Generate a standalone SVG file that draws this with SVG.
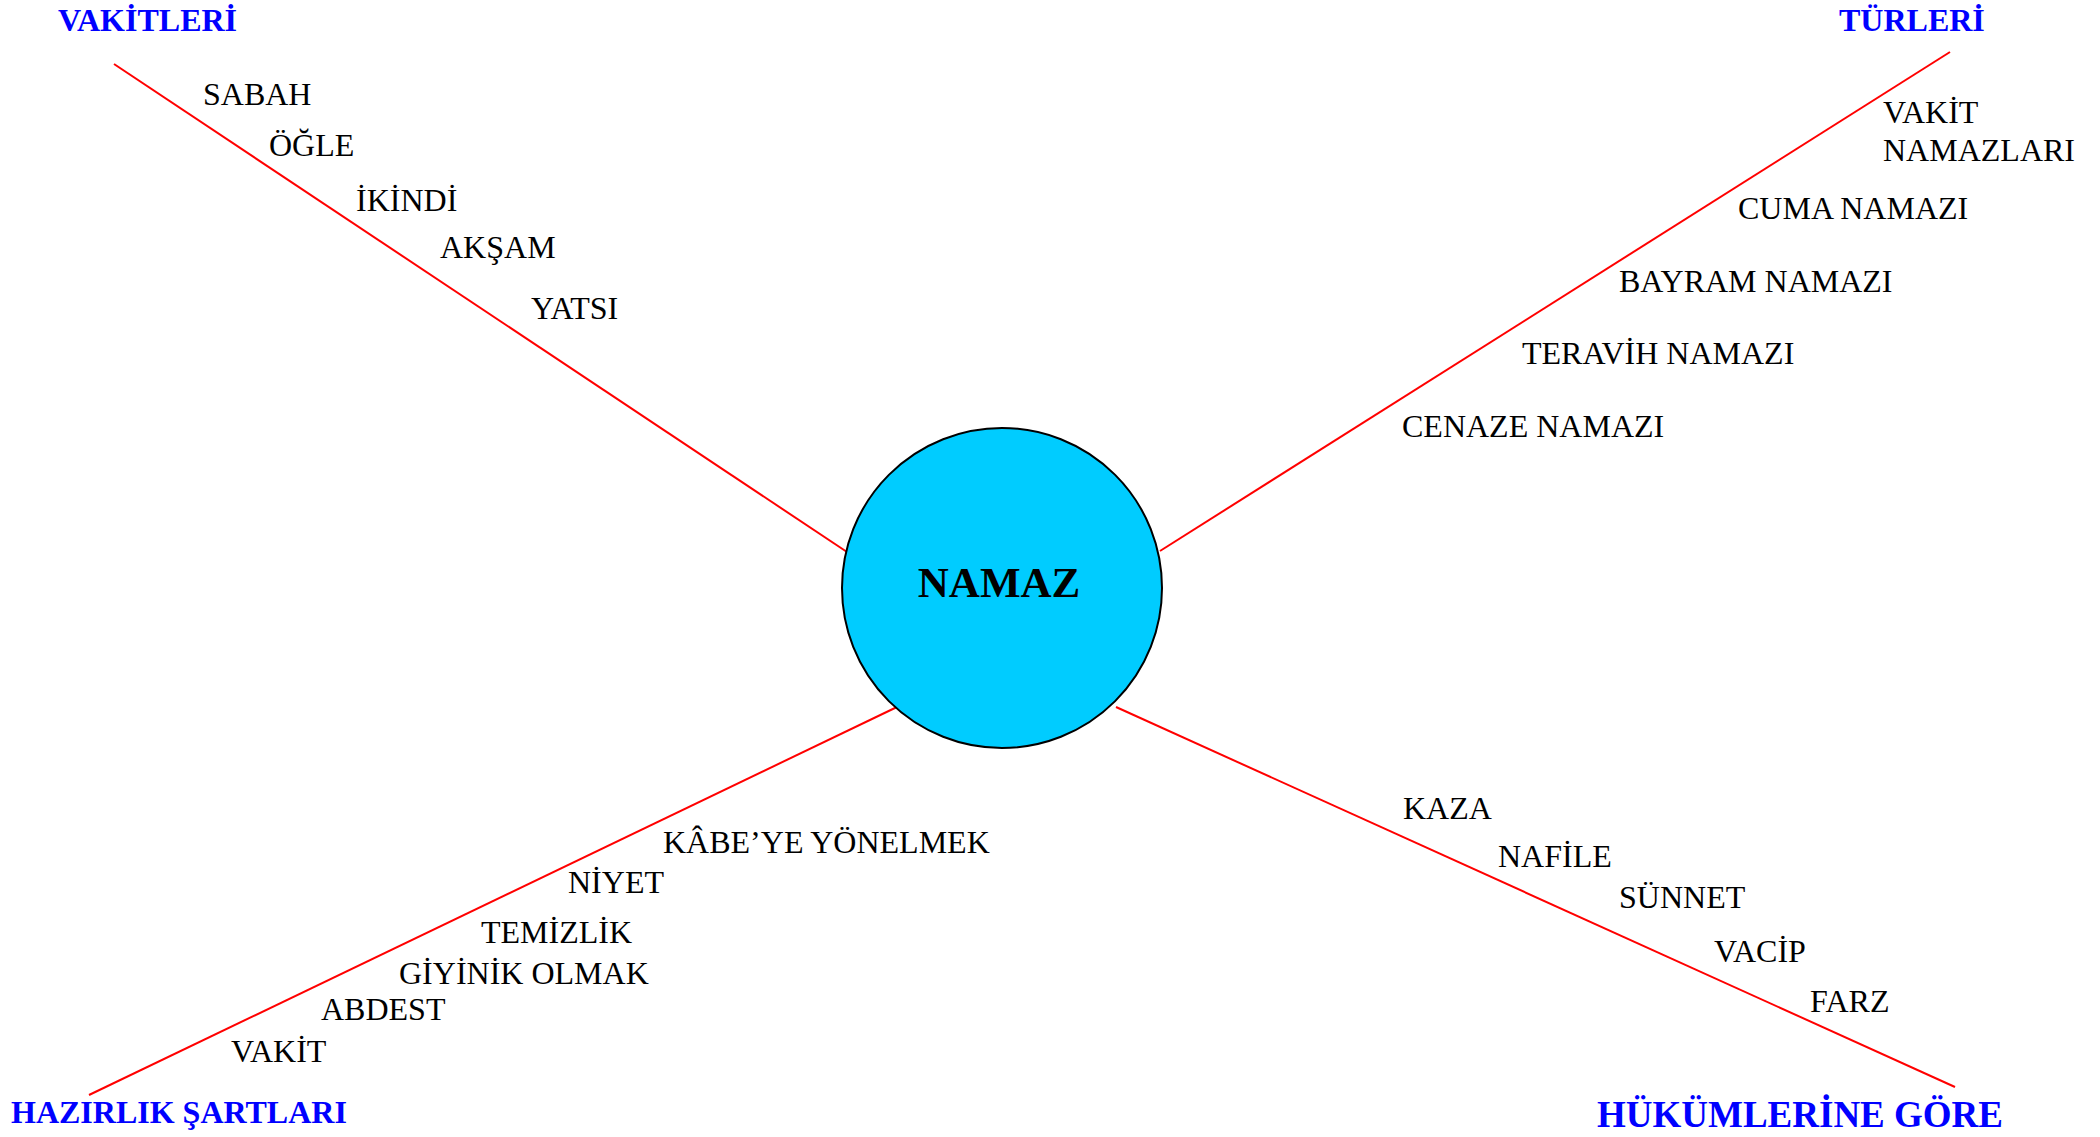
<svg xmlns="http://www.w3.org/2000/svg" width="2100" height="1137" viewBox="0 0 2100 1137">
<style>
.bg{fill:#ffffff}
.conn{stroke:#ff0000;stroke-width:2;fill:none}
.hub{fill:#00ccff;stroke:#000000;stroke-width:2}
.hub-t{font-family:"Liberation Serif","Times New Roman",serif;font-weight:bold;font-size:43px;fill:#000000;text-anchor:middle}
.head{font-family:"Liberation Serif","Times New Roman",serif;font-weight:bold;font-size:32px;fill:#0000ff}
.item{font-family:"Liberation Serif","Times New Roman",serif;font-size:32px;fill:#000000}
</style>
<rect class="bg" x="0" y="0" width="2100" height="1137"/>
<g id="connectors">
<line class="conn" x1="114" y1="64" x2="847" y2="552"/>
<line class="conn" x1="1950" y1="52" x2="1160" y2="551"/>
<line class="conn" x1="89" y1="1095" x2="897" y2="707"/>
<line class="conn" x1="1116" y1="707" x2="1955" y2="1087"/>
</g>
<g id="namaz">
<circle class="hub" cx="1002" cy="588" r="160"/>
<text class="hub-t" x="999" y="597">NAMAZ</text>
</g>
<g id="vakitleri">
<text class="head" x="58" y="31">VAKİTLERİ</text>
<text class="item" x="203" y="105">SABAH</text>
<text class="item" x="269" y="156">ÖĞLE</text>
<text class="item" x="356" y="211">İKİNDİ</text>
<text class="item" x="440" y="258">AKŞAM</text>
<text class="item" x="531" y="319">YATSI</text>
</g>
<g id="turleri">
<text class="head" x="1839" y="31">TÜRLERİ</text>
<text class="item" x="1883" y="123">VAKİT</text>
<text class="item" x="1883" y="161">NAMAZLARI</text>
<text class="item" x="1738" y="219">CUMA NAMAZI</text>
<text class="item" x="1619" y="292">BAYRAM NAMAZI</text>
<text class="item" x="1522" y="364">TERAVİH NAMAZI</text>
<text class="item" x="1402" y="437">CENAZE NAMAZI</text>
</g>
<g id="hazirlik">
<text class="head" x="11" y="1123">HAZIRLIK ŞARTLARI</text>
<text class="item" x="663" y="853">KÂBE’YE YÖNELMEK</text>
<text class="item" x="568" y="893">NİYET</text>
<text class="item" x="481" y="943">TEMİZLİK</text>
<text class="item" x="399" y="984">GİYİNİK OLMAK</text>
<text class="item" x="321" y="1020">ABDEST</text>
<text class="item" x="231" y="1062">VAKİT</text>
</g>
<g id="hukumlerine">
<text class="head" x="1597" y="1127" style="font-size:37px">HÜKÜMLERİNE GÖRE</text>
<text class="item" x="1403" y="819">KAZA</text>
<text class="item" x="1498" y="867">NAFİLE</text>
<text class="item" x="1619" y="908">SÜNNET</text>
<text class="item" x="1714" y="962">VACİP</text>
<text class="item" x="1810" y="1012">FARZ</text>
</g>
</svg>
